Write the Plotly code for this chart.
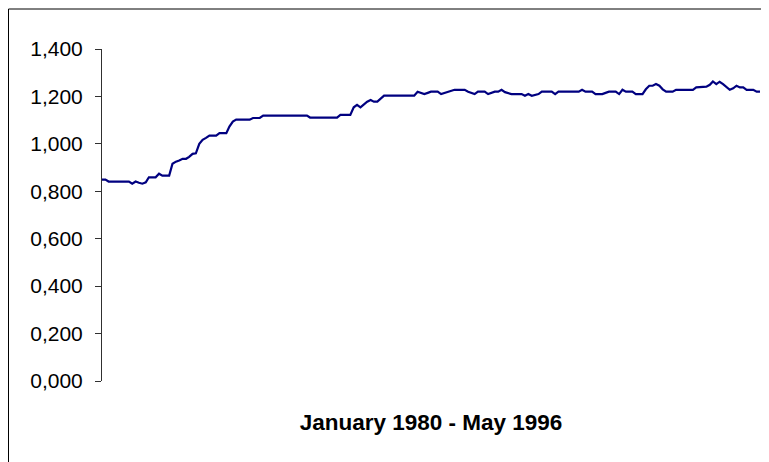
import plotly.graph_objects as go
import pandas as pd

# Monthly values, January 1980 - May 1996
values = [
    0.849, 0.849,
    0.841, 0.841, 0.841, 0.841, 0.841, 0.841, 0.841,
    0.832, 0.841, 0.836, 0.832, 0.838,
    0.859, 0.859, 0.859,
    0.874, 0.866, 0.866, 0.866,
    0.916, 0.925, 0.930, 0.937, 0.937, 0.945, 0.958, 0.960,
    1.000, 1.017, 1.025,
    1.035, 1.035, 1.035,
    1.045, 1.045, 1.045,
    1.073, 1.094,
    1.102, 1.102, 1.102, 1.102, 1.102,
    1.109, 1.109, 1.109,
    1.119, 1.119, 1.119, 1.119, 1.119, 1.119, 1.119,
    1.119, 1.119, 1.119, 1.119, 1.119, 1.119, 1.119,
    1.111, 1.111, 1.111, 1.111, 1.111, 1.111, 1.111, 1.111, 1.111,
    1.122, 1.122, 1.122, 1.122,
    1.154, 1.164, 1.154, 1.168, 1.178, 1.185, 1.178, 1.178, 1.190,
    1.203, 1.203, 1.203, 1.203, 1.203, 1.203, 1.203, 1.203, 1.203, 1.203,
    1.220, 1.215, 1.210, 1.215,
    1.220, 1.220, 1.220,
    1.210, 1.215, 1.220, 1.224,
    1.228, 1.228, 1.228, 1.228,
    1.220, 1.215, 1.210,
    1.220, 1.220, 1.220,
    1.210, 1.215, 1.220, 1.220,
    1.228, 1.218, 1.214,
    1.210, 1.210, 1.210, 1.210,
    1.203, 1.210, 1.203, 1.207, 1.210,
    1.220, 1.220, 1.220, 1.220,
    1.210,
    1.220, 1.220, 1.220, 1.220, 1.220, 1.220, 1.220,
    1.228,
    1.220, 1.220, 1.220,
    1.210, 1.210, 1.210,
    1.215,
    1.220, 1.220, 1.220,
    1.210, 1.228,
    1.220, 1.220, 1.220,
    1.210, 1.210, 1.210,
    1.230, 1.245, 1.245, 1.252, 1.245, 1.230,
    1.220, 1.220, 1.220,
    1.228, 1.228, 1.228, 1.228, 1.228, 1.228,
    1.238, 1.240, 1.241, 1.241, 1.249, 1.263, 1.252, 1.262, 1.252,
    1.240, 1.228, 1.234, 1.245, 1.238, 1.238,
    1.228, 1.228, 1.228,
    1.220, 1.220,
]
months = pd.date_range("1980-01-01", periods=len(values), freq="MS")

y_ticks = [0.0, 0.2, 0.4, 0.6, 0.8, 1.0, 1.2, 1.4]
x_title = "January 1980 - May 1996"

FONT = "Liberation Sans, Arial, sans-serif"

fig = go.Figure()
fig.add_trace(go.Scatter(
    x=months, y=values, mode="lines",
    line=dict(color="#000080", width=2.2),
    hoverinfo="skip", showlegend=False,
))

# The page body adds an 8px margin, so the figure is sized to fit the window.
W, H = 761, 454
L, R, T, B = 94, 9, 41, 81
fig.update_layout(
    width=W, height=H,
    margin=dict(l=L, r=R, t=T, b=B),
    paper_bgcolor="white", plot_bgcolor="white",
    separators=",.",
    font=dict(family=FONT, size=21, color="black"),
    showlegend=False,
)
fig.update_xaxes(
    range=[months[0], months[-1]],
    showgrid=False, zeroline=False, showline=False,
    showticklabels=False, ticks="",
    title=dict(text="<b>" + x_title + "</b>", standoff=33,
               font=dict(size=22.5, family=FONT)),
)
fig.update_yaxes(
    range=[0, 1.4], tickvals=y_ticks, tickformat=".3f",
    showgrid=False, zeroline=False,
    showline=True, linecolor="#303030", linewidth=1,
    ticks="outside", ticklen=6, tickcolor="#303030",
    ticklabelstandoff=8,
    tickfont=dict(size=21, family=FONT),
)

# Chart frame (top and left edges visible in the window)
pw = W - L - R
ph = H - T - B
fx = (0.5 - L) / pw
fy = (ph + T - 1) / ph
fig.add_shape(type="line", xref="paper", yref="paper",
              x0=fx, y0=-1, x1=fx, y1=fy, line=dict(color="black", width=1))
fig.add_shape(type="line", xref="paper", yref="paper",
              x0=fx, y0=fy, x1=2, y1=fy, line=dict(color="black", width=1))

fig.write_html("out.html")
